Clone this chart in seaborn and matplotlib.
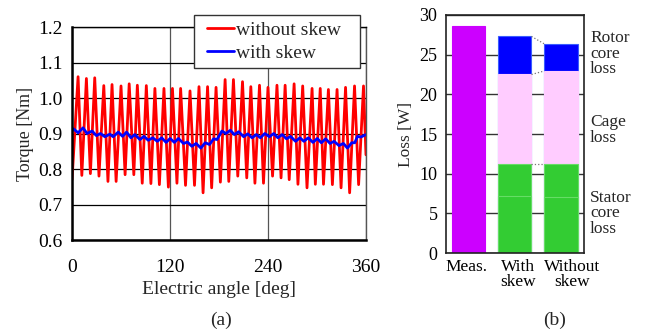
import numpy as np
import matplotlib
matplotlib.use("Agg")
import matplotlib.pyplot as plt
import matplotlib.transforms as mtransforms
import seaborn as sns
from matplotlib.lines import Line2D
from matplotlib.patches import Rectangle

# (a) torque waveform (peaks / troughs)
angle_no_skew = [0, 7.4, 12, 17.6, 22.5, 27.8, 33, 38.9, 44, 49, 54, 60, 65, 70,
                 75.7, 80, 86, 91, 96.6, 101.5, 107, 112.6, 118, 123, 128.5, 133,
                 139, 144.5, 150, 155.5, 160.5, 166, 171, 176.4, 181.7, 187.5, 192,
                 197.7, 203, 208.8, 214, 219, 224, 229.6, 234.5, 240, 245.6, 251,
                 256, 261, 266, 272, 276.7, 282.5, 287.8, 294, 298, 304, 308, 314,
                 318.9, 324.6, 329.5, 335, 340, 346, 351, 357, 360]
torque_no_skew = [0.77, 1.06, 0.782, 1.055, 0.787, 1.057, 0.78, 1.035, 0.765, 1.038,
                  0.765, 1.034, 0.784, 1.04, 0.784, 1.036, 0.76, 1.035, 0.759, 1.027,
                  0.756, 1.027, 0.749, 1.027, 0.76, 1.027, 0.754, 1.02, 0.754, 1.032,
                  0.733, 1.032, 0.747, 1.03, 0.763, 1.052, 0.765, 1.052, 0.78, 1.046,
                  0.775, 1.032, 0.76, 1.036, 0.76, 1.03, 0.78, 1.036, 0.775, 1.036,
                  0.77, 1.04, 0.757, 1.034, 0.747, 1.027, 0.757, 1.027, 0.757, 1.024,
                  0.756, 1.024, 0.747, 1.03, 0.733, 1.034, 0.756, 1.034, 0.84]

angle_skew = [0, 2, 7.4, 13.5, 18.4, 24.6, 29.9, 34.8, 40.2, 46.3, 50.4, 56.6, 61.9,
              66.8, 72.1, 77.0, 83.2, 88.1, 93.4, 98.8, 104.5, 109.8, 115.2, 120.1,
              125.4, 130.3, 136.5, 141.4, 146.7, 152.0, 157.8, 163.1, 168.4, 173.4,
              177.5, 183.6, 188.5, 193.9, 198.8, 204.1, 210.2, 215.2, 220.5, 225.8,
              230.7, 236.1, 241.8, 247.1, 252.0, 257.4, 262.7, 267.6, 273.8, 279.1,
              284.0, 289.3, 295.1, 300.4, 305.3, 310.7, 316.0, 320.9, 327.0, 332.4,
              337.3, 342.6, 346.3, 349.6, 353.7, 360]
torque_skew = [0.907, 0.913, 0.902, 0.916, 0.900, 0.907, 0.894, 0.900, 0.891, 0.898,
               0.891, 0.904, 0.892, 0.904, 0.888, 0.897, 0.883, 0.892, 0.881, 0.888,
               0.878, 0.888, 0.875, 0.886, 0.875, 0.886, 0.872, 0.876, 0.864, 0.872,
               0.859, 0.874, 0.869, 0.885, 0.883, 0.907, 0.900, 0.909, 0.897, 0.905,
               0.891, 0.899, 0.888, 0.897, 0.888, 0.900, 0.891, 0.900, 0.888, 0.897,
               0.885, 0.892, 0.878, 0.888, 0.878, 0.888, 0.875, 0.886, 0.874, 0.885,
               0.872, 0.878, 0.866, 0.872, 0.859, 0.874, 0.874, 0.892, 0.890, 0.897]

angle_ticks = [0, 120, 240, 360]
torque_ticks = [0.6, 0.7, 0.8, 0.9, 1.0, 1.1, 1.2]

# (b) loss breakdown [W]
loss_categories = ["Meas.", "With\nskew", "Without\nskew"]
measured_loss = [28.6, np.nan, np.nan]
stator_core_main = [np.nan, 7.2, 7.0]
stator_core_rest = [np.nan, 4.0, 4.2]
cage_loss = [np.nan, 11.3, 11.75]
rotor_core_loss = [np.nan, 4.8, 3.4]
loss_ticks = [0, 5, 10, 15, 20, 25, 30]

sns.set_style("white")
plt.rcParams['font.family'] = ['Liberation Serif', 'DejaVu Serif']

fig = plt.figure(figsize=(6.46, 3.34), dpi=100)
ax1 = fig.add_axes([0.1115, 0.2814, 0.455, 0.6377])
ax2 = fig.add_axes([0.690, 0.2425, 0.2141, 0.7126])

# ---- (a) torque ----
sns.lineplot(x=angle_no_skew, y=torque_no_skew, color='#ff0000', linewidth=2,
             estimator=None, sort=False, ax=ax1)
sns.lineplot(x=angle_skew, y=torque_skew, color='#0000ff', linewidth=2,
             estimator=None, sort=False, ax=ax1)
ax1.set_xlim(0, 360)
ax1.set_ylim(0.6, 1.2)
ax1.set_xticks(angle_ticks)
ax1.set_yticks(torque_ticks)
ax1.set_yticklabels([f"{t:.1f}" for t in torque_ticks])
ax1.set_axisbelow(True)
ax1.yaxis.grid(True, color='black', linewidth=0.9)
ax1.xaxis.grid(True, color='#555555', linewidth=0.9)
ax1.tick_params(axis='both', length=0, labelsize=14, colors='black')
ax1.tick_params(axis='x', pad=14)
ax1.tick_params(axis='y', pad=7)
for side in ['left', 'bottom']:
    ax1.spines[side].set_linewidth(1.8)
    ax1.spines[side].set_color('black')
ax1.spines['top'].set_linewidth(1.0)
ax1.spines['top'].set_color('black')
ax1.spines['right'].set_linewidth(1.0)
ax1.spines['right'].set_color('#555555')
ax1.set_xlabel("Electric angle [deg]", fontsize=14, labelpad=3)
ax1.set_ylabel("Torque [Nm]", fontsize=13, labelpad=3)

# legend box sits on top of the axes frame, with wide side padding
legend_box = Rectangle((0.415, 0.808), 0.565, 0.248, transform=ax1.transAxes,
                       facecolor='white', edgecolor='#333333', linewidth=1.0,
                       clip_on=False, zorder=5)
ax1.add_patch(legend_box)
handles = [Line2D([], [], color='#ff0000', lw=2), Line2D([], [], color='#0000ff', lw=2)]
leg = ax1.legend(handles, ["without skew", "with skew"], loc='center left',
                 bbox_to_anchor=(0.46, 0.932), fontsize=14, frameon=False,
                 handlelength=1.4, handletextpad=0.1, borderpad=0,
                 labelspacing=0.25, borderaxespad=0)
leg.set_zorder(6)

# ---- (b) losses, stacked by overlaying cumulative bars ----
stator_total = np.array(stator_core_main) + np.array(stator_core_rest)
cage_top = stator_total + np.array(cage_loss)
rotor_top = cage_top + np.array(rotor_core_loss)

layers = [
    (measured_loss, '#cc00ff', '#cc00ff'),
    (rotor_top, '#0000ff', '#3a5cff'),
    (cage_top, '#ffccff', '#ffccff'),
    (stator_total, '#33cc33', '#66dd66'),
    (stator_core_main, '#33cc33', '#66dd66'),
]
for heights, face, edge in layers:
    sns.barplot(x=loss_categories, y=list(heights), order=loss_categories,
                color=face, edgecolor=edge, linewidth=0.8, saturation=1,
                width=0.72, errorbar=None, ax=ax2)

# dotted links between the two simulated bars
half = 0.36
for tops in [rotor_top, cage_top, stator_total]:
    ax2.plot([1 + half, 2 - half], [tops[1], tops[2]], color='#777777',
             linestyle=':', linewidth=0.9)

ax2.set_xlim(-0.5, 2.5)
ax2.set_ylim(0, 30)
ax2.set_yticks(loss_ticks)
ax2.set_axisbelow(True)
ax2.yaxis.grid(True, color='#333333', linewidth=1.0)
ax2.tick_params(axis='both', length=0, colors='black')
ax2.tick_params(axis='y', labelsize=13, pad=6)
ax2.tick_params(axis='x', labelsize=12.5, pad=4)
label_shift = [-2, 3, 11]
for lbl, dx in zip(ax2.get_xticklabels(), label_shift):
    lbl.set_linespacing(0.95)
    lbl.set_transform(lbl.get_transform() +
                      mtransforms.ScaledTranslation(dx / 100, 0, fig.dpi_scale_trans))
for side in ['left', 'bottom', 'top', 'right']:
    ax2.spines[side].set_linewidth(1.2)
    ax2.spines[side].set_color('#222222')
ax2.set_ylabel("Loss [W]", fontsize=12.5, labelpad=4)

part_labels = ["Rotor\ncore\nloss", "Cage\nloss", "Stator\ncore\nloss"]
part_y = [25.1, 15.5, 5.0]
for txt, yv in zip(part_labels, part_y):
    ax2.text(1.043, yv, txt, transform=ax2.get_yaxis_transform(), ha='left',
             va='center', fontsize=12.5, linespacing=0.95)

fig.text(221 / 646, 1 - 320 / 334, "(a)", ha='center', va='center', fontsize=14)
fig.text(555 / 646, 1 - 320 / 334, "(b)", ha='center', va='center', fontsize=14)

fig.savefig("out.png", dpi=100)
